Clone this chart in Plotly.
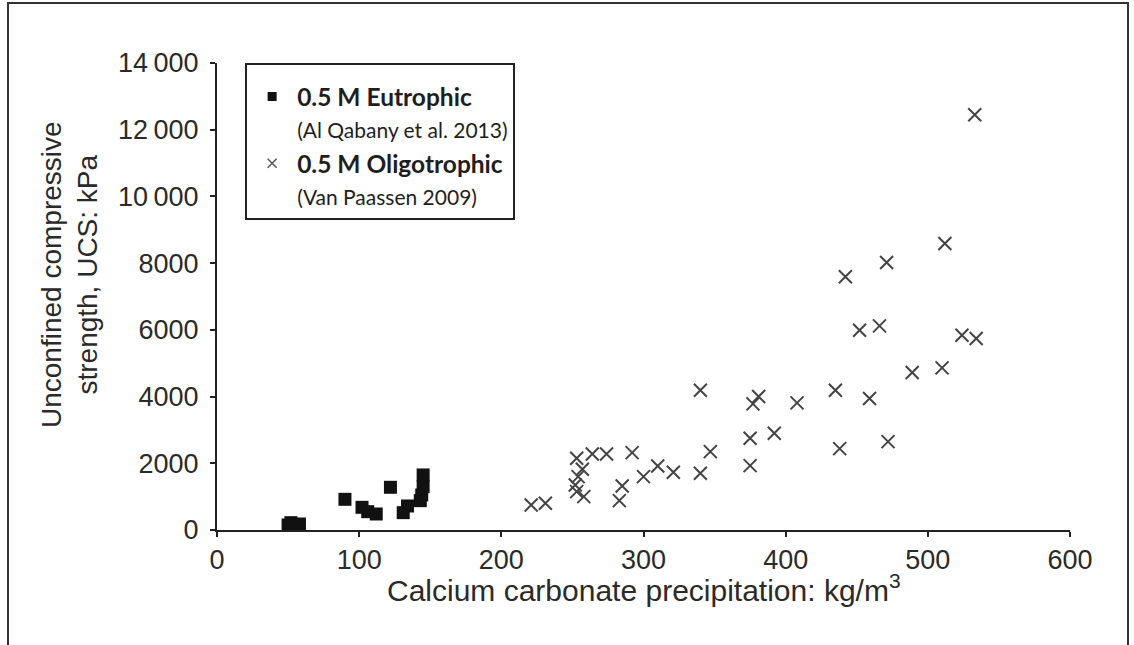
import plotly.graph_objects as go

# Data
eu_x = [50, 52, 58, 90, 102, 106, 112, 122, 131, 134, 143, 144, 145, 145]
eu_y = [150, 220, 180, 920, 680, 550, 480, 1280, 520, 720, 880, 1050, 1300, 1650]

ol_x = [221, 231, 252, 253, 253, 254, 257, 258, 264, 274, 283, 285, 292, 300, 310, 321,
        340, 340, 347, 375, 375, 377, 381, 392, 408, 435, 438, 442, 452, 459, 466, 471,
        472, 489, 510, 512, 524, 533, 534]
ol_y = [750, 800, 1350, 2150, 1150, 1600, 1820, 1000, 2280, 2280, 880, 1320, 2320, 1600,
        1920, 1730, 1700, 4190, 2350, 2750, 1930, 3780, 4000, 2900, 3810, 4190, 2440, 7590,
        5990, 3940, 6120, 8020, 2650, 4720, 4860, 8590, 5840, 12450, 5740]

x_ticks = [0, 100, 200, 300, 400, 500, 600]
y_ticks = [0, 2000, 4000, 6000, 8000, 10000, 12000, 14000]
y_tick_text = ["0", "2000", "4000", "6000", "8000", "10\u2009000", "12\u2009000", "14\u2009000"]

eu_name = "<b>0.5 M Eutrophic</b><br><span style='font-size:21px'>(Al Qabany et al. 2013)</span>"
ol_name = "<b>0.5 M Oligotrophic</b><br><span style='font-size:21px'>(Van Paassen 2009)</span>"

TXT = "#2a2a2a"
AX = "#222222"

fig = go.Figure()
fig.add_trace(go.Scatter(x=eu_x, y=eu_y, mode="markers", showlegend=False,
                         marker=dict(symbol="square", size=13, color="#111111")))
fig.add_trace(go.Scatter(x=ol_x, y=ol_y, mode="markers", showlegend=False,
                         marker=dict(symbol="x-thin", size=13, color="#444444",
                                     line=dict(width=2, color="#444444"))))
# legend-only entries (smaller symbols as in the reference legend)
fig.add_trace(go.Scatter(x=[None], y=[None], mode="markers", name=eu_name,
                         marker=dict(symbol="square", size=9, color="#111111")))
fig.add_trace(go.Scatter(x=[None], y=[None], mode="markers", name=ol_name,
                         marker=dict(symbol="x-thin", size=9, color="#555555",
                                     line=dict(width=1.5, color="#555555"))))

fig.update_layout(
    width=1134, height=645,
    margin=dict(l=217, r=64, t=63, b=115),
    paper_bgcolor="white", plot_bgcolor="white",
    font=dict(family="Liberation Sans, Arial, sans-serif", size=27, color=TXT),
    legend=dict(x=0.033, y=1.0, xanchor="left", yanchor="top",
                bordercolor=AX, borderwidth=2, bgcolor="white",
                font=dict(family="Lato, Carlito, sans-serif", size=24.5, color="#1e1e1e"),
                title=dict(text=" ", font=dict(size=7)),
                valign="top", itemwidth=40),
    xaxis=dict(range=[0, 600], tickvals=x_ticks, showgrid=False, zeroline=False,
               showline=True, linecolor=AX, linewidth=2, ticks="outside", ticklen=5,
               tickcolor=AX, tickwidth=1.5, fixedrange=True),
    yaxis=dict(range=[0, 14000], tickvals=y_ticks, ticktext=y_tick_text, showgrid=False,
               zeroline=False, showline=True, linecolor=AX, linewidth=2, ticks="outside",
               ticklen=5, tickcolor=AX, tickwidth=1.5, fixedrange=True,
               ticklabelstandoff=6),
    annotations=[
        dict(text="Unconfined compressive<br>strength, UCS: kPa", xref="paper", yref="paper",
             x=(69 - 217) / 853, y=0.546, xanchor="center", yanchor="middle",
             textangle=-90, showarrow=False, font=dict(size=28, color=TXT)),
        dict(text="Calcium carbonate precipitation: kg/m<sup>3</sup>", xref="paper", yref="paper",
             x=0.5, y=(530 - 588) / 467, xanchor="center", yanchor="middle",
             showarrow=False, font=dict(size=30, color=TXT)),
    ],
    shapes=[dict(type="rect", xref="paper", yref="paper",
                 x0=(8 - 217) / 853, x1=(1128 - 217) / 853,
                 y0=(530 - 680) / 467, y1=(530 - 3) / 467,
                 line=dict(color="#333333", width=2), fillcolor="rgba(0,0,0,0)", layer="below")],
)

fig.write_html("out.html")
